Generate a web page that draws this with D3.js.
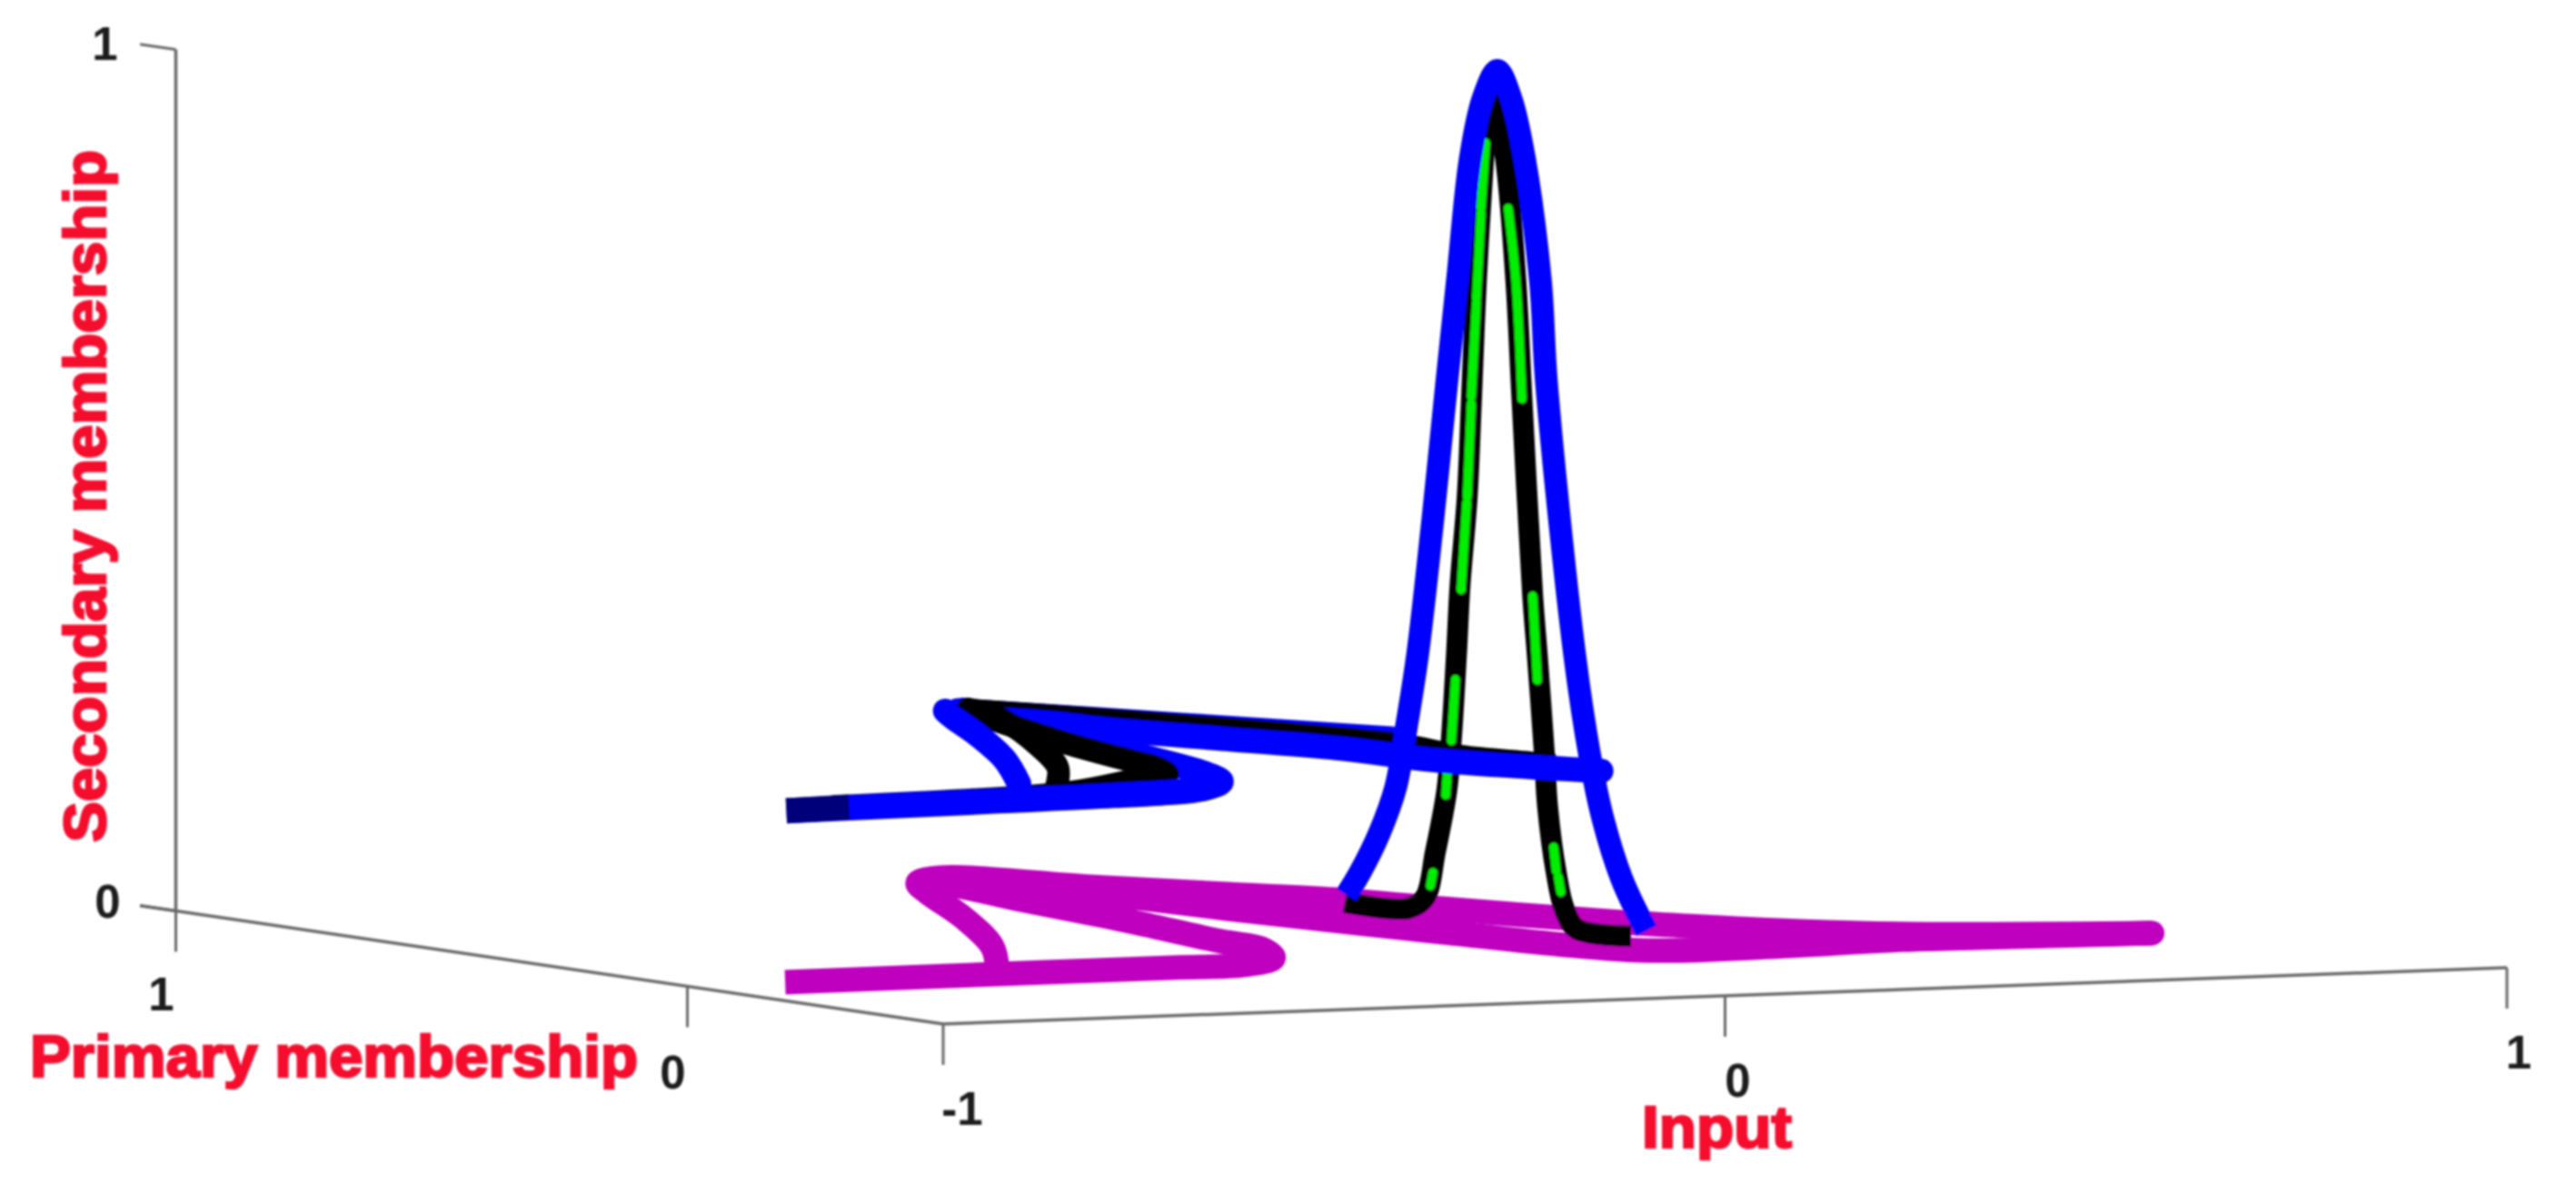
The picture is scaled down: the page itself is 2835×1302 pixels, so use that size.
<!DOCTYPE html>
<html><head><meta charset="utf-8">
<script src="https://cdn.jsdelivr.net/npm/d3@7"></script>
<style>html,body{margin:0;background:#fff}svg{display:block}</style></head>
<body><svg id="c" width="2835" height="1302"></svg>
<script>
// Data: [input, primary membership, secondary membership]
const inputTicks = [-1, 0, 1];
const primaryTicks = [1, 0];
const secondaryTicks = [0, 1];
const inputLabels = ["-1", "0", "1"];
const primaryLabels = ["1", "0"];
const secondaryLabels = ["0", "1"];

const groundOuter = [[-.871,.006,0],[-.595,.011,0],[-.372,.012,0],[-.278,.014,0],[-.198,.080,0],[-.147,.182,0],[-.138,.274,0],[-.090,.534,0],[-.043,.853,0],[-.004,1.020,0],[.040,.979,0],[.075,.809,0],[.096,.621,0],[.153,.286,0],[.230,.016,0],[.390,.005,0],[.581,.030,0],[.876,.004,0]];
const groundInner = [[-.558,.070,0],[-.411,.304,0],[-.238,.625,0],[-.098,.910,0],[-.044,1.011,0],[.017,1.060,0],[.108,.906,0],[.197,.776,0],[.270,.676,0],[.318,.538,0],[.400,.338,0],[.447,.261,0],[.527,.159,0],[.619,.088,0],[.876,.004,0]];

const upperFringe = [[.003,1.005,.2],[.132,.764,.2],[.253,.538,.2]];
const upperFold = [[-.432,.035,.2],[-.298,.069,.2],[-.226,.139,.2],[-.189,.221,.2],[-.099,.573,.2],[.009,1.003,.2]];
const upperBottom = [[-.876,-.004,.2],[-.588,.021,.2],[-.432,.035,.2],[-.298,.069,.2],[-.226,.139,.2]];
const upperStart = [[-.876,-.004,.2],[-.786,.011,.2]];
const upperLimb = [[-.447,.197,.2],[-.291,.464,.2],[-.148,.736,.2],[-.058,.919,.2],[-.016,1.000,.2]];
const upperBand = [[-.048,.916,.2],[-.014,.879,.2],[.010,.822,.2],[.020,.746,.2],[.077,.592,.2],[.130,.440,.2],[.143,.290,.2],[.240,.109,.2]];
const upperPeak = [[.35,.775,-.006],[.35,.748,.023],[.35,.711,.071],[.35,.679,.127],[.35,.658,.199],[.35,.636,.285],[.35,.606,.446],[.35,.579,.606],[.35,.558,.727],[.35,.533,.870],[.35,.508,.942],[.35,.480,.977],[.35,.453,.946],[.35,.427,.879],[.35,.396,.741],[.35,.384,.623],[.35,.329,.312],[.35,.299,.196],[.35,.274,.127],[.35,.237,.060],[.35,.189,.004]];

const middleFold = [[-.794,.025,.2],[-.460,.082,.2],[-.303,.191,.2],[-.231,.237,.2],[-.192,.319,.2],[-.176,.385,.2],[-.115,.615,.2],[.007,.991,.2]];
const middleThin = [[-.447,.125,.2],[-.299,.347,.2],[-.172,.576,.2],[-.011,.902,.2],[.020,1.011,.2]];
const middleBand = [[.020,1.011,.2],[.132,.764,.2],[.223,.477,.2],[.204,.327,.2],[.230,.234,.2],[.237,.195,.2]];
const middlePeak = [[.35,.778,-.015],[.35,.654,-.011],[.35,.622,.004],[.35,.601,.060],[.35,.579,.132],[.35,.570,.193],[.35,.560,.292],[.35,.553,.373],[.35,.539,.477],[.35,.531,.586],[.35,.521,.730],[.35,.507,.872],[.35,.498,.942],[.35,.480,.975],[.35,.485,.944],[.35,.464,.876],[.35,.444,.737],[.35,.432,.600],[.35,.411,.373],[.35,.402,.305],[.35,.388,.191],[.35,.382,.132],[.35,.365,.056],[.35,.349,.015],[.35,.325,-.006],[.35,.219,-.005]];

const centreDashes = [
 [[.35,.503,.891],[.35,.512,.815]],[[.35,.512,.809],[.35,.521,.709]],[[.35,.521,.704],[.35,.531,.594]],
 [[.35,.531,.586],[.35,.539,.477]],[[.35,.540,.470],[.35,.551,.368]],[[.35,.562,.263],[.35,.570,.191]],
 [[.35,.578,.153],[.35,.581,.127]],[[.35,.606,.035],[.35,.611,.019]],
 [[.35,.459,.819],[.35,.444,.737],[.35,.432,.600]],[[.35,.411,.373],[.35,.402,.276]],
 [[.35,.370,.085],[.35,.365,.058]],[[.35,.361,.051],[.35,.356,.034]]
];

// Projection of the 3D box on the page
const originX = 1617, originY = 1054.5;
const inputX = d3.scaleLinear().domain([-1,1]).range([-860.5,860.5]);
const inputY = d3.scaleLinear().domain([-1,1]).range([31,-31]);
const primaryX = d3.scaleLinear().domain([0,1]).range([0,-563]);
const primaryY = d3.scaleLinear().domain([0,1]).range([0,-83]);
const secondaryY = d3.scaleLinear().domain([0,1]).range([0,-948]);
const px = d => originX + inputX(d[0]) + primaryX(d[1]);
const py = d => originY + inputY(d[0]) + primaryY(d[1]) + secondaryY(d[2]);

const svg = d3.select("#c");
const defs = svg.append("defs");
defs.append("filter").attr("id","soft").attr("x","-5%").attr("y","-5%").attr("width","110%").attr("height","110%")
  .append("feGaussianBlur").attr("stdDeviation",0.8);
const root = svg.append("g").attr("filter","url(#soft)");

// Axes
const axisColor = "#6a6a6a";
const seg = (a,b,w=3) => root.append("line")
  .attr("x1",px(a)).attr("y1",py(a)).attr("x2",px(b)).attr("y2",py(b))
  .attr("stroke",axisColor).attr("stroke-width",w);
const pMin = -0.5, tickDrop = 45, sideTick = 0.07;
seg([-1,pMin,0],[1,pMin,0],3.5);
seg([-1,pMin,0],[-1,1+sideTick,0],3.5);
seg([-1,1,0],[-1,1,1],3.5);
secondaryTicks.forEach(s => seg([-1,1,s],[-1,1+sideTick,s]));
const dropTick = (d) => root.append("line").attr("x1",px(d)).attr("y1",py(d)).attr("x2",px(d)).attr("y2",py(d)+tickDrop)
  .attr("stroke",axisColor).attr("stroke-width",3);
inputTicks.forEach(u => dropTick([u,pMin,0]));
primaryTicks.forEach(p => dropTick([-1,p,0]));

// Tick labels
const tickText = (t,x,y) => root.append("text").text(t).attr("x",x).attr("y",y)
  .attr("text-anchor","middle").attr("font-family","Liberation Sans").attr("font-weight","bold")
  .attr("font-size",51).attr("fill","#1c1c1c");
inputLabels.forEach((t,i)=>{const d=[inputTicks[i],pMin,0]; tickText(t,px(d)+[21,14,13][i],py(d)+[111,111,111][i]);});
primaryLabels.forEach((t,i)=>{const d=[-1,primaryTicks[i],0]; tickText(t,px(d)+[-16,-16][i],py(d)+[109,112][i]);});
secondaryLabels.forEach((t,i)=>{const d=[-1,1,secondaryTicks[i]]; tickText(t,px(d)-[75,78][i],py(d)+[7,11][i]);});

// Curves
const curve = d3.line().x(px).y(py).curve(d3.curveCatmullRom.alpha(0.5));
const straight = d3.line().x(px).y(py);
const stroke = (data,color,width,cap="butt",gen=curve) => root.append("path").datum(data).attr("d",gen)
  .attr("fill","none").attr("stroke",color).attr("stroke-width",width)
  .attr("stroke-linecap",cap).attr("stroke-linejoin","round");

const magenta="#bf00bf", blue="#0000ff", black="#000000", green="#00ee00", navy="#00007a";
stroke(groundOuter,magenta,27);
stroke(groundInner,magenta,27);
stroke(groundOuter.slice(-2),magenta,27,"round",straight);
stroke(upperFringe,blue,26,"round");
stroke(upperFold,blue,27,"round");
stroke(middleBand,black,23,"butt");
stroke(middlePeak,black,23,"butt");
centreDashes.forEach(d=>stroke(d,green,10,"round",d.length>2?curve:straight));
stroke(upperBand,blue,27,"round");
stroke(middleFold,black,25,"round");
stroke(middleThin,black,25,"round");
stroke(upperBottom,blue,28,"butt");
stroke(upperStart,navy,28,"butt",straight);
stroke(upperLimb,blue,27,"round");
stroke(upperPeak,blue,25,"butt");

// Axis titles
const title = (t,x,y,len,rot) => root.append("text").text(t)
  .attr("transform",`translate(${x},${y})${rot?" rotate(-90)":""}`)
  .attr("textLength",len).attr("lengthAdjust","spacingAndGlyphs")
  .attr("font-family","Liberation Sans").attr("font-weight","bold").attr("font-size",64)
  .attr("fill","#f50a2d").attr("stroke","#f50a2d").attr("stroke-width",2.5);
title("Primary membership",33,1185,669,false);
title("Secondary membership",116,927,762,true);
title("Input",1807,1263,165,false);
</script></body></html>
